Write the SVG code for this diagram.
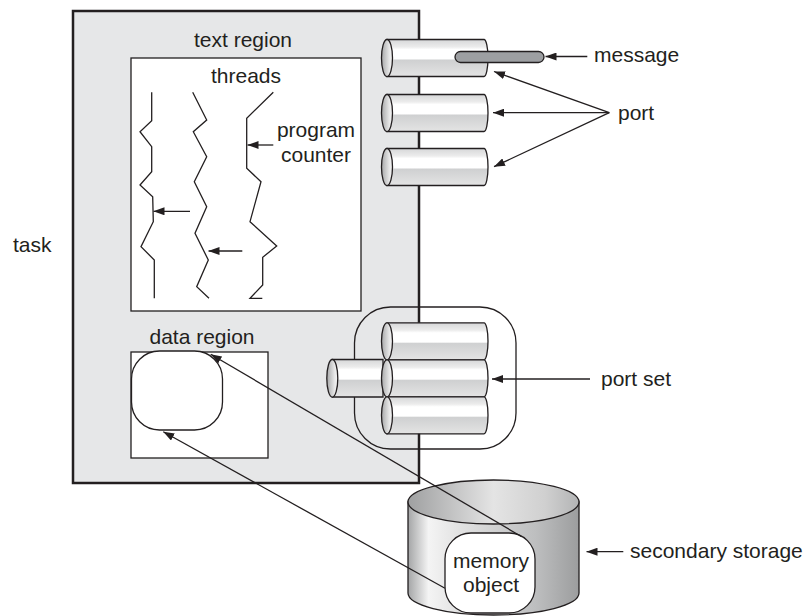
<svg xmlns="http://www.w3.org/2000/svg" xmlns:xlink="http://www.w3.org/1999/xlink" width="808" height="616" viewBox="0 0 808 616">
<style>
.t{font-family:"Liberation Sans",Arial,sans-serif;font-size:21px;fill:#231f20}
.m{text-anchor:middle}
.ln{fill:none;stroke:#231f20;stroke-width:1.3}
.ar{fill:none;stroke:#231f20;stroke-width:1.3;marker-end:url(#ah)}
.ol{stroke:#231f20;stroke-width:1.3}
</style>
<defs>
<marker id="ah" markerUnits="userSpaceOnUse" markerWidth="11" markerHeight="8" refX="11" refY="4" orient="auto">
<path d="M0,0 L11,4 L0,8 Z" fill="#231f20"/>
</marker>
<linearGradient id="gBody" x1="0" y1="0" x2="0" y2="1">
<stop offset="0" stop-color="#d6d7d8"/>
<stop offset="0.2" stop-color="#ececec"/>
<stop offset="0.27" stop-color="#ffffff"/>
<stop offset="0.52" stop-color="#ffffff"/>
<stop offset="0.56" stop-color="#cfd0d1"/>
<stop offset="1" stop-color="#e4e4e4"/>
</linearGradient>
<linearGradient id="gCap" x1="0" y1="0" x2="1" y2="0">
<stop offset="0" stop-color="#a7a8a9"/>
<stop offset="0.7" stop-color="#e6e6e6"/>
<stop offset="1" stop-color="#f7f7f7"/>
</linearGradient>
<linearGradient id="gSide" x1="0" y1="0" x2="1" y2="0">
<stop offset="0" stop-color="#a4a5a6"/>
<stop offset="0.12" stop-color="#f4f4f4"/>
<stop offset="0.3" stop-color="#e2e2e2"/>
<stop offset="0.75" stop-color="#bdbebf"/>
<stop offset="1" stop-color="#9c9d9e"/>
</linearGradient>
<linearGradient id="gTop" x1="0" y1="0" x2="1" y2="0">
<stop offset="0" stop-color="#9fa0a1"/>
<stop offset="0.5" stop-color="#e4e4e4"/>
<stop offset="0.8" stop-color="#d0d0d0"/>
<stop offset="1" stop-color="#b3b4b5"/>
</linearGradient>
<g id="cyl">
<path d="M0,-18.5 H97 A4,18.5 0 0 1 97,18.5 H0 Z" fill="url(#gBody)" class="ol"/>
<ellipse cx="0" cy="0" rx="5.5" ry="18.5" fill="url(#gCap)" class="ol"/>
</g>
</defs>

<g id="task">
<rect x="73" y="11" width="346" height="472" fill="#e6e7e8" stroke="#231f20" stroke-width="2.5"/>
<text class="t" x="13" y="252">task</text>
</g>

<g id="text-region">
<rect x="131" y="58" width="230" height="253" fill="#ffffff" class="ol"/>
<text class="t m" x="243" y="47">text region</text>
<text class="t m" x="246" y="83">threads</text>
<text class="t m" x="316" y="137">program</text>
<text class="t m" x="316" y="161.5">counter</text>
</g>

<g id="threads">
<polyline class="ln" points="151.7,92.3 151.7,120.7 140,131.7 151.7,146.7 151.7,171.7 140,185 152.7,196.7 153.3,221.7 141,246.7 154.3,260 154.3,298.3"/>
<polyline class="ln" points="192.7,92.3 206.7,120 193.3,131.7 206.7,156.7 194.3,181.7 206.7,206.7 195,233.3 208.3,260 196.7,286.7 209,298.3"/>
<polyline class="ln" points="273.3,92.3 246.7,118.3 246.7,168.3 261,181.7 250,221.7 276.7,246 262.7,257.3 262.7,285 250,298.3 262.3,298.3"/>
</g>

<g id="data-region">
<rect x="131" y="352" width="137" height="106" fill="#ffffff" class="ol"/>
<rect x="131.5" y="351" width="91" height="79" rx="28" ry="28" fill="#ffffff" class="ol"/>
<text class="t m" x="202" y="344">data region</text>
</g>

<g id="ports">
<use xlink:href="#cyl" x="387" y="58"/>
<use xlink:href="#cyl" x="387" y="113"/>
<use xlink:href="#cyl" x="387" y="167"/>
<text class="t" x="618" y="120">port</text>
</g>

<g id="message">
<rect x="455" y="51.5" width="89" height="11" rx="5.5" ry="5.5" fill="#9d9fa2" class="ol"/>
<text class="t" x="594" y="62">message</text>
</g>

<g id="port-set">
<rect x="354.5" y="307" width="161.5" height="142" rx="36" ry="36" fill="none" class="ol"/>
<path d="M332.3,359.5 H383 V397 H332.3 Z" fill="url(#gBody)" class="ol"/>
<ellipse cx="332.3" cy="378.3" rx="5.5" ry="18.8" fill="url(#gCap)" class="ol"/>
<use xlink:href="#cyl" x="387" y="341.3"/>
<use xlink:href="#cyl" x="387" y="378.3"/>
<use xlink:href="#cyl" x="387" y="415.3"/>
<text class="t" x="601" y="386">port set</text>
</g>

<g id="secondary-storage">
<path d="M408,502 V593 A85.5,22 0 0 0 579,593 V502 Z" fill="url(#gSide)" class="ol"/>
<ellipse cx="493.5" cy="502" rx="85.5" ry="22" fill="url(#gTop)" class="ol"/>
<text class="t" x="630" y="558">secondary storage</text>
</g>

<g id="memory-object">
<rect x="445" y="533" width="90" height="80" rx="26" ry="26" fill="#ffffff" class="ol"/>
<text class="t m" x="491" y="568">memory</text>
<text class="t m" x="491" y="592">object</text>
</g>

<g id="connectors">
<line class="ar" x1="190" y1="211.3" x2="153.5" y2="211.3"/>
<line class="ar" x1="242.3" y1="251" x2="208.5" y2="251"/>
<line class="ar" x1="273.3" y1="145" x2="247.5" y2="145"/>
<line class="ar" x1="587.3" y1="56.5" x2="545.5" y2="56.5"/>
<line class="ar" x1="609.3" y1="112.7" x2="494" y2="71.5"/>
<line class="ar" x1="609.3" y1="112.7" x2="493" y2="112.7"/>
<line class="ar" x1="609.3" y1="112.7" x2="494" y2="166.7"/>
<line class="ar" x1="590" y1="379" x2="492" y2="379"/>
<line class="ar" x1="623.3" y1="551.7" x2="586.5" y2="551.7"/>
<line class="ar" x1="521.7" y1="536.7" x2="210.7" y2="354.3"/>
<line class="ar" x1="445" y1="588.3" x2="163.3" y2="431.7"/>
</g>
</svg>
